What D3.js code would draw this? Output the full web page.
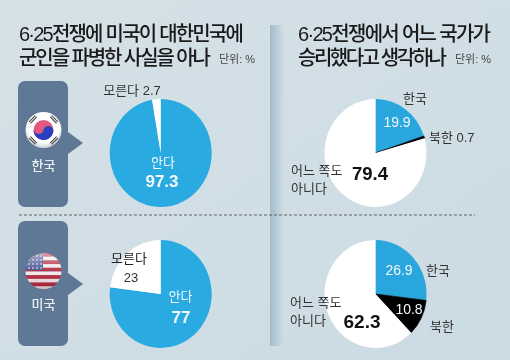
<!DOCTYPE html>
<html><head><meta charset="utf-8">
<script src="https://cdn.jsdelivr.net/npm/d3@7"></script>
<style>html,body{margin:0;padding:0;background:#d0dee5}svg{display:block;filter:blur(.35px)}text{font-family:"Liberation Sans","Noto Sans CJK KR",sans-serif}</style>
</head><body><svg id="c" width="510" height="360"></svg>
<script>
const titleLeft = ["6·25전쟁에 미국이 대한민국에", "군인을 파병한 사실을 아나"];
const titleRight = ["6·25전쟁에서 어느 국가가", "승리했다고 생각하나"];
const unitLabel = "단위: %";
const countries = ["한국", "미국"];
const knowCategories = ["안다", "모른다"];
const knowKorea = [97.3, 2.7];
const knowUSA = [77, 23];
const winnerCategories = ["한국", "북한", "어느 쪽도", "아니다"];
const winnerKorea = [19.9, 0.7, 79.4];
const winnerUSA = [26.9, 10.8, 62.3];
const knowColors = ["#29abe2", "#ffffff"];
const winnerColors = ["#29a6dc", "#000000", "#ffffff"];

const svg = d3.select("#c");
const defs = svg.append("defs");
const bg = defs.append("linearGradient").attr("id","bg").attr("x1",0).attr("x2",1).attr("y1",0).attr("y2",1);
bg.append("stop").attr("offset",0).attr("stop-color","#d6e1e7");
bg.append("stop").attr("offset",1).attr("stop-color","#cbdbe3");
const dv = defs.append("linearGradient").attr("id","dv");
dv.append("stop").attr("offset",0).attr("stop-color","#a2bbc9");
dv.append("stop").attr("offset",1).attr("stop-color","#d0dee5");
const kr = defs.append("radialGradient").attr("id","fl").attr("cx",.5).attr("cy",.42).attr("r",.58);
kr.append("stop").attr("offset",.75).attr("stop-color","#fff");
kr.append("stop").attr("offset",1).attr("stop-color","#ccd0d6");
const shade = defs.append("linearGradient").attr("id","sh").attr("x1",0).attr("x2",0).attr("y1",0).attr("y2",1);
shade.append("stop").attr("offset",0).attr("stop-color","#fff").attr("stop-opacity",.55);
shade.append("stop").attr("offset",.5).attr("stop-color","#fff").attr("stop-opacity",.08);
shade.append("stop").attr("offset",1).attr("stop-color","#500").attr("stop-opacity",.2);
defs.append("clipPath").attr("id","usclip").append("circle").attr("cx",43.5).attr("cy",271).attr("r",18);

svg.append("rect").attr("width",510).attr("height",360).attr("fill","url(#bg)");
svg.append("rect").attr("x",270).attr("y",25).attr("width",14).attr("height",321).attr("fill","url(#dv)");

// titles: natural text fitted to the measured width of each line
function title(lines,x,ys,w){
  lines.forEach((t,i)=>{
    const s = svg.append("text").attr("x",x).attr("y",ys[i]).attr("font-size",20).attr("font-weight",500)
      .attr("fill","#1a1a1a").text(t);
    const extra = (w[i]-s.node().getComputedTextLength())/(t.length-1);
    s.style("letter-spacing",extra+"px");
  });
}
title(titleLeft,19,[41,65],[225,192]);
title(titleRight,298,[41,65],[193,149]);
svg.append("text").attr("x",219).attr("y",63).attr("font-size",11).attr("fill","#444").text(unitLabel);
svg.append("text").attr("x",455).attr("y",63).attr("font-size",11).attr("fill","#444").text(unitLabel);

// dashed separator
svg.append("line").attr("x1",19).attr("x2",475).attr("y1",215).attr("y2",215).attr("stroke","#444").attr("stroke-width",.8).attr("stroke-dasharray","3 2");

// country panels
[[81,207,143,170],[221,346,284,309]].forEach(([y0,y1,py,ty],i)=>{
  svg.append("rect").attr("x",18).attr("y",y0).attr("width",50).attr("height",y1-y0).attr("rx",7).attr("fill","#5e7896");
  svg.append("path").attr("d",`M68 ${py-11}L83 ${py}L68 ${py+11}Z`).attr("fill","#5e7896");
  svg.append("text").attr("x",43.5).attr("y",ty).attr("text-anchor","middle").attr("font-size",13).attr("font-weight",500).attr("fill","#e8eef3").text(countries[i]);
});

// Korean flag
const kf = svg.append("g").attr("transform","translate(43.5,130)");
kf.append("circle").attr("r",18).attr("fill","url(#fl)");
kf.append("circle").attr("r",10).attr("fill","#e2587f");
kf.append("path").attr("d","M-10 0A10 10 0 0 0 10 0A5 5 0 0 0 0 0A5 5 0 0 1 -10 0Z").attr("transform","rotate(12)").attr("fill","#2a3fc0");
[45,135,225,315].forEach(a=>{
  [-16.5,-14.5].forEach(y=>kf.append("rect").attr("x",-4.5).attr("y",y).attr("width",9).attr("height",1.1).attr("fill","#444").attr("transform",`rotate(${a})`));
});

// US flag
const uf = svg.append("g").attr("clip-path","url(#usclip)");
d3.range(10).forEach(i=>uf.append("rect").attr("x",25).attr("y",253+i*3.7).attr("width",37).attr("height",3.7).attr("fill",i%2?"#f4e8ec":"#b31f35"));
uf.append("rect").attr("x",25).attr("y",253).attr("width",18).attr("height",17).attr("fill","#3c4a8c");
d3.range(4).forEach(r=>d3.range(4).forEach(c=>uf.append("circle").attr("cx",29+c*4).attr("cy",256+r*4).attr("r",.8).attr("fill","#fff")));
svg.append("circle").attr("cx",43.5).attr("cy",271).attr("r",18).attr("fill","url(#sh)");

// pies
const pie = d3.pie().sort(null);
const arc = d3.arc().innerRadius(0).outerRadius(54);
function drawPie(vals,colors,cx,cy){
  const g = svg.append("g").attr("transform",`translate(${cx},${cy}) scale(${51/54},1)`);
  g.selectAll("path").data(pie(vals)).join("path").attr("d",arc).attr("fill",(d,i)=>colors[i])
    .attr("stroke",(d,i)=>colors[i]==="#000000"?"#000":"none").attr("stroke-width",.7);
}
drawPie(knowKorea,knowColors,160.7,153);
drawPie(knowUSA,knowColors,160.7,294);
drawPie(winnerKorea,winnerColors,375.5,153);
drawPie(winnerUSA,winnerColors,375.5,294);

function label(t,x,y,size,fill,weight,anchor){
  svg.append("text").attr("x",x).attr("y",y).attr("font-size",size).attr("fill",fill).attr("font-weight",weight||400).attr("text-anchor",anchor||"middle").text(t);
}
const white="#f2f8fb", dark="#333";
label(`${knowCategories[1]} ${knowKorea[1]}`,132,95,13,dark);
label(knowCategories[0],163,167,13,white);
label(knowKorea[0],162,187,17,white,700);
label(knowCategories[1],129,263,13,"#222");
label(knowUSA[1],131,282,13,"#333");
label(knowCategories[0],180.5,301,13,white);
label(knowUSA[0],181,323,17,white,700);

label(winnerCategories[0],415,103,13,dark);
label(winnerKorea[0],397,127,14,white);
label(`${winnerCategories[1]} ${winnerKorea[1]}`,429,142,13,dark,400,"start");
label(winnerCategories[2],291,175,13,dark,400,"start");
label(winnerCategories[3],291,193,13,dark,400,"start");
label(winnerKorea[2],370,180,18.5,"#111",700);
label(winnerCategories[0],438,275,13,dark);
label(winnerUSA[0],399,275,14,white);
label(winnerUSA[1],409,314,14,white);
label(winnerCategories[1],442,331,13,dark);
label(winnerCategories[2],290,307,13,dark,400,"start");
label(winnerCategories[3],290,325,13,dark,400,"start");
label(winnerUSA[2],362,328,19,"#111",700);
</script></body></html>
